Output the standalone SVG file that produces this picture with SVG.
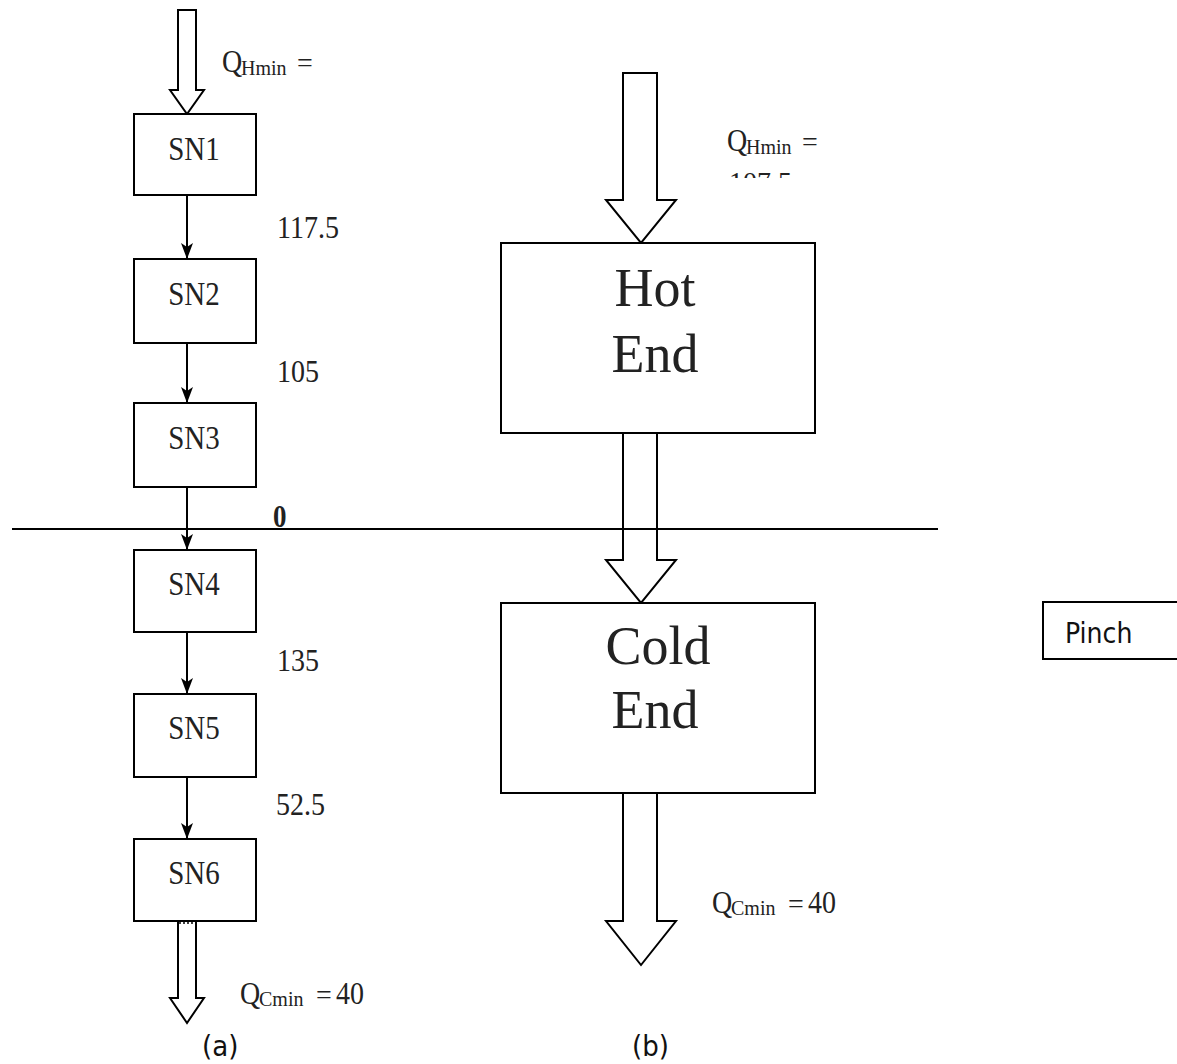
<svg xmlns="http://www.w3.org/2000/svg" width="1177" height="1064" viewBox="0 0 1177 1064">
<style>
.box{fill:#fff;stroke:#000;stroke-width:2}
.harrow{fill:#fff;stroke:#000;stroke-width:2;stroke-linejoin:miter}
.conn{stroke:#000;stroke-width:2;fill:none}
.ser{font-family:"Liberation Serif","Times New Roman",serif;fill:#222}
.sn{font-size:29px;text-anchor:middle}
.num{font-size:28px}
.big{font-size:54px;text-anchor:middle}
.sub{font-size:20px}
.sans{font-family:"DejaVu Sans Condensed","DejaVu Sans",sans-serif;fill:#111}
</style>
<defs>
<marker id="ah" viewBox="0 0 16 12" refX="16" refY="6" markerWidth="16" markerHeight="12" markerUnits="userSpaceOnUse" orient="auto">
<path d="M0,0 L4,6 L0,12 L16,6 Z" fill="#000"/>
</marker>
<clipPath id="clip107"><rect x="720" y="165" width="80" height="13"/></clipPath>
</defs>
<rect width="1177" height="1064" fill="#fff"/>

<!-- pinch line -->
<line x1="12" y1="529" x2="938" y2="529" stroke="#000" stroke-width="2"/>
<text class="ser" transform="translate(273,527) scale(1,1.15)" font-size="27" font-weight="bold">0</text>

<g id="connectors">
<line class="conn" x1="187" y1="195" x2="187" y2="259" marker-end="url(#ah)"/>
<line class="conn" x1="187" y1="343" x2="187" y2="403" marker-end="url(#ah)"/>
<line class="conn" x1="187" y1="487" x2="187" y2="550" marker-end="url(#ah)"/>
<line class="conn" x1="187" y1="632" x2="187" y2="694" marker-end="url(#ah)"/>
<line class="conn" x1="187" y1="777" x2="187" y2="839" marker-end="url(#ah)"/>
<!-- hollow arrows (a) -->
<polygon class="harrow" points="178,10 196,10 196,90 204,90 187,114 170,90 178,90"/>
<polyline class="harrow" points="178,921 178,998 170,998 187,1023 204,998 196,998 196,921"/>
<line x1="179" y1="923" x2="195" y2="923" stroke="#000" stroke-width="1.5" stroke-dasharray="2,2"/>
<!-- hollow arrows (b) -->
<polygon class="harrow" points="623,73 657,73 657,200 676,200 641,243 606,200 623,200"/>
<polyline class="harrow" points="623,433 623,560 606,560 641,603 676,560 657,560 657,433"/>
<polyline class="harrow" points="623,793 623,921 606,921 641,965 676,921 657,921 657,793"/>
<line x1="600" y1="529" x2="700" y2="529" stroke="#000" stroke-width="2"/>
</g>

<g id="SN1"><rect class="box" x="134" y="114" width="122" height="81"/><text class="ser sn" transform="translate(194,160) scale(1,1.15)">SN1</text></g>
<g id="SN2"><rect class="box" x="134" y="259" width="122" height="84"/><text class="ser sn" transform="translate(194,305) scale(1,1.15)">SN2</text></g>
<g id="SN3"><rect class="box" x="134" y="403" width="122" height="84"/><text class="ser sn" transform="translate(194,449) scale(1,1.15)">SN3</text></g>
<g id="SN4"><rect class="box" x="134" y="550" width="122" height="82"/><text class="ser sn" transform="translate(194,595) scale(1,1.15)">SN4</text></g>
<g id="SN5"><rect class="box" x="134" y="694" width="122" height="83"/><text class="ser sn" transform="translate(194,739) scale(1,1.15)">SN5</text></g>
<g id="SN6"><rect class="box" x="134" y="839" width="122" height="82"/><text class="ser sn" transform="translate(194,884) scale(1,1.15)">SN6</text></g>

<g id="HotEnd"><rect class="box" x="501" y="243" width="314" height="190"/>
<text class="ser big" x="655" y="306">Hot</text><text class="ser big" x="655" y="372">End</text></g>
<g id="ColdEnd"><rect class="box" x="501" y="603" width="314" height="190"/>
<text class="ser big" x="658" y="664">Cold</text><text class="ser big" x="655" y="728">End</text></g>

<g id="Pinch"><rect class="box" x="1043" y="602" width="150" height="57"/>
<text class="sans" x="1065" y="643" font-size="28">Pinch</text></g>

<g id="labels">
<text class="ser num" transform="translate(277,238) scale(1,1.15)">117.5</text>
<text class="ser num" transform="translate(277,382) scale(1,1.15)">105</text>
<text class="ser num" transform="translate(277,671) scale(1,1.15)">135</text>
<text class="ser num" transform="translate(276,815) scale(1,1.15)">52.5</text>

<text class="ser num" transform="translate(222,72) scale(1,1.15)">Q</text><text class="ser sub" x="241" y="75">Hmin</text><text class="ser num" x="297" y="72">=</text>
<text class="ser num" transform="translate(727,151) scale(1,1.15)">Q</text><text class="ser sub" x="746" y="154">Hmin</text><text class="ser num" x="802" y="151">=</text>
<text class="ser num" x="729" y="191" clip-path="url(#clip107)">107.5</text>

<text class="ser num" transform="translate(240,1004) scale(1,1.15)">Q</text><text class="ser sub" x="259" y="1006">Cmin</text><text class="ser num" x="316" y="1004">=</text><text class="ser num" transform="translate(336,1004) scale(1,1.15)">40</text>
<text class="ser num" transform="translate(712,913) scale(1,1.15)">Q</text><text class="ser sub" x="731" y="915">Cmin</text><text class="ser num" x="788" y="913">=</text><text class="ser num" transform="translate(808,913) scale(1,1.15)">40</text>

<text class="sans" x="202" y="1056" font-size="29">(a)</text>
<text class="sans" x="632" y="1056" font-size="29">(b)</text>
</g>
</svg>
